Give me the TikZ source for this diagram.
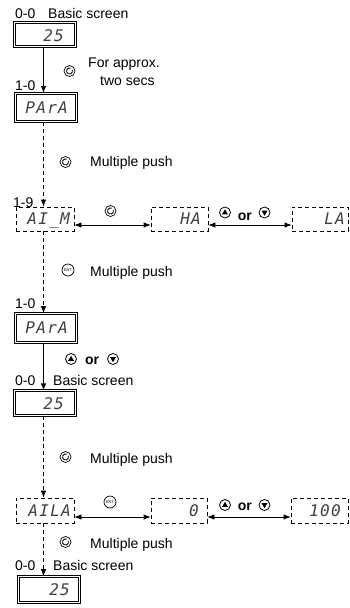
\documentclass[tikz,border=0pt]{standalone}
\usepackage{fontspec}
\setmainfont{Liberation Sans}
\newfontfamily\segfont{DejaVu Sans Mono}[LetterSpace=8]
\usetikzlibrary{arrows.meta,calc}
\tikzset{
  solidbox/.style={draw, double, double distance=1.3pt, line width=0.7pt, inner sep=0pt,
    minimum width=61pt, minimum height=24.5pt},
  dashbox/.style={draw, line width=0.8pt, dash pattern=on 4pt off 3pt, inner sep=0pt,
    minimum height=24pt},
  seg/.style={font=\segfont\itshape\fontsize{16}{16}\selectfont, text=black!75, inner sep=0pt,
    anchor=east, text height=11.7pt, text depth=0pt},
  lbl/.style={inner sep=0pt, anchor=base west},
  orlbl/.style={inner sep=0pt, anchor=base, font=\fontsize{14}{16}\selectfont\bfseries},
  tip/.tip={Latex[length=7pt,width=5.5pt]},
  flow/.style={line width=0.8pt, -tip},
  dflow/.style={line width=0.8pt, -tip, dash pattern=on 4pt off 3pt},
  both/.style={line width=0.8pt, tip-tip},
  rotary/.pic={
    \draw[line width=0.7pt] (0,0) circle[radius=5.5];
    \draw[line width=0.9pt] (-20:3) arc[start angle=-20, end angle=290, radius=3];
  },
  entkey/.pic={
    \draw[line width=0.7pt] (0,0) circle[radius=6];
    \node[inner sep=0pt, font=\fontsize{4}{4}\selectfont] (-t) at (0,0) {ENT};
  },
  upkey/.pic={
    \draw[line width=0.8pt] (0,0) circle[radius=5.5];
    \fill (0,-3.2) -- (3,1.9) -- (-3,1.9) -- cycle;
  },
  downkey/.pic={
    \draw[line width=0.8pt] (0,0) circle[radius=5.5];
    \fill (0,3.2) -- (3,-1.9) -- (-3,-1.9) -- cycle;
  },
}
\begin{document}
\begin{tikzpicture}[x=1pt, y=-1pt, font=\fontsize{14}{16}\selectfont]
\useasboundingbox (0,0) rectangle (349,608);
\coordinate (ax) at (43.5,0);
\coordinate (r1) at (0,225);
\coordinate (r2) at (0,517);

% boxes
\node[solidbox] (b1) at (45,34.5) {};
\node[solidbox, minimum height=28.5pt] (p1) at (46,107.5) {};
\node[dashbox, minimum width=58pt] (aim) at (45,219) {};
\node[dashbox, minimum width=57pt] (ha) at (179.5,219) {};
\node[dashbox, minimum width=56pt] (la) at (320,219) {};
\node[solidbox, minimum height=29pt] (p2) at (46,328) {};
\node[solidbox] (b2) at (45,403) {};
\node[dashbox, minimum width=58pt, minimum height=25pt] (aila) at (45,510.5) {};
\node[dashbox, minimum width=56pt, minimum height=25pt] (zero) at (179,510.5) {};
\node[dashbox, minimum width=57pt, minimum height=25pt] (hund) at (319.5,510.5) {};
\node[solidbox, minimum height=26pt] (b3) at (49,589.5) {};

% display texts
\node[seg] (d1) at (64,36) {25};
\node[seg] (d2) at (68,108) {PArA};
\node[seg] (d3) at (70,219) {AI\_M};
\node[seg] (d4) at (201,219) {HA};
\node[seg] (d5) at (345,219) {LA};
\node[seg] (d6) at (68,328) {PArA};
\node[seg] (d7) at (64,404) {25};
\node[seg] (d8) at (71,511) {AILA};
\node[seg] (d9) at (199,511) {0};
\node[seg] (d10) at (341,511) {100};
\node[seg] (d11) at (70,590) {25};

% vertical flow
\draw[flow] (b1.south -| ax) -- (p1.north -| ax);
\draw[dflow] (p1.south -| ax) -- (aim.north -| ax);
\draw[dflow] (aim.south -| ax) -- (p2.north -| ax);
\draw[flow] (p2.south -| ax) -- (b2.north -| ax);
\draw[dflow] (b2.south -| ax) -- (aila.north -| ax);
\draw[dflow] (aila.south -| ax) -- (b3.north -| ax);

% horizontal double arrows
\draw[both] (aim.east |- r1) -- (ha.west |- r1);
\draw[both] (ha.east |- r1) -- (la.west |- r1);
\draw[both] (aila.east |- r2) -- (zero.west |- r2);
\draw[both] (zero.east |- r2) -- (hund.west |- r2);

% labels
\node[lbl] (l1) at (15,18) {0-0};
\node[lbl] (l2) at (48,18) {Basic screen};
\node[lbl] (l3) at (88,67) {For approx.};
\node[lbl] (l4) at (100,85) {two secs};
\node[lbl] (l5) at (15,90) {1-0};
\node[lbl] (l6) at (90,166) {Multiple push};
\node[lbl] (l7) at (13,207) {1-9};
\node[orlbl] (l8) at (244.75,220) {or};
\node[lbl] (l9) at (90,276) {Multiple push};
\node[lbl] (l10) at (15,308) {1-0};
\node[orlbl] (l11) at (92,364) {or};
\node[lbl] (l12) at (15,385) {0-0};
\node[lbl] (l13) at (53,385) {Basic screen};
\node[lbl] (l14) at (90,463) {Multiple push};
\node[orlbl] (l15) at (244.75,510) {or};
\node[lbl] (l16) at (90,548) {Multiple push};
\node[lbl] (l17) at (15,570) {0-0};
\node[lbl] (l18) at (53,570) {Basic screen};

% icons
\pic at (69.5,71) {rotary};
\pic at (65.5,162) {rotary};
\pic at (110.5,211) {rotary};
\pic at (225,212.5) {upkey};
\pic at (264.5,212.5) {downkey};
\pic (e1) at (68,270) {entkey};
\pic at (71,359) {upkey};
\pic at (113,359) {downkey};
\pic at (65.5,457) {rotary};
\pic (e2) at (110,502) {entkey};
\pic at (225,505) {upkey};
\pic at (264.5,505) {downkey};
\pic at (65.5,542) {rotary};
\end{tikzpicture}
\end{document}
